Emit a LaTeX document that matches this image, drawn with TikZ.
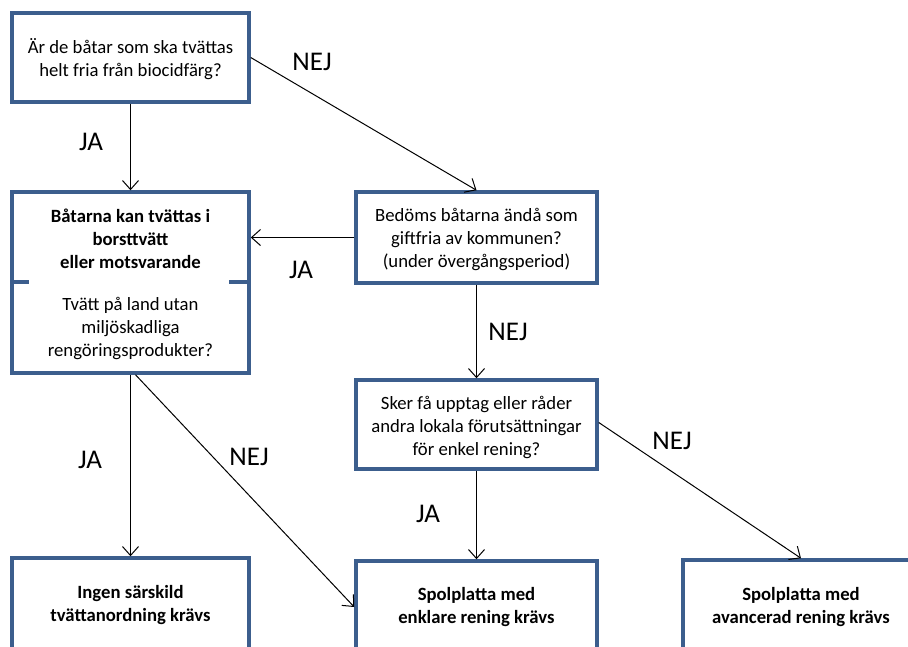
\documentclass[tikz,border=0pt]{standalone}
\usepackage{fontspec}
\setmainfont{Carlito}
\usetikzlibrary{arrows.meta,calc}
\definecolor{boxblue}{HTML}{3C5E8D}
\begin{document}
\begin{tikzpicture}[x=1pt,y=-1pt,
 box/.style={draw=boxblue,line width=3.5pt,fill=white,inner sep=0pt,align=center,font=\fontsize{18.7}{23}\selectfont},
 txt/.style={align=center,font=\fontsize{18.7}{23}\selectfont},
 btxt/.style={align=center,font=\bfseries\fontsize{18.7}{23}\selectfont},
 lbl/.style={font=\fontsize{27}{30}\selectfont},
 conn/.style={draw=black,line width=1pt,-{Straight Barb[length=9pt,width=16pt]}}
]
\useasboundingbox (0,0) rectangle (908,646);
\node[box,minimum width=237,minimum height=89] (b1) at (130.5,57.5) {};
\node[txt] (b1t) at (130.5,59.5) {Är de båtar som ska tvättas\\helt fria från biocidfärg?};
\node[box,minimum width=237,minimum height=181] (b2) at (130.5,282.5) {};
\node[btxt] (b2top) at (130.5,239) {Båtarna kan tvättas i\\borsttvätt\\eller motsvarande};
\node[txt] (b2bot) at (130.5,328) {Tvätt på land utan\\miljöskadliga\\rengöringsprodukter?};
\draw[boxblue,line width=3.5pt] ([yshift=0.5]b2.west) -- ++(19,0);
\draw[boxblue,line width=3.5pt] ([yshift=0.5]b2.east) -- ++(-22,0);
\node[box,minimum width=241,minimum height=91] (b3) at (476.5,237.5) {};
\node[txt] (b3t) at (476.5,239.5) {Bedöms båtarna ändå som\\giftfria av kommunen?\\(under övergångsperiod)};
\node[box,minimum width=241,minimum height=89] (b4) at (476.5,424.5) {};
\node[txt] (b4t) at (476.5,427.5) {Sker få upptag eller råder\\andra lokala förutsättningar\\för enkel rening?};
\node[box,minimum width=237,minimum height=92] (b5) at (130.5,604) {};
\node[btxt] (b5t) at (130.5,605) {Ingen särskild\\tvättanordning krävs};
\node[box,minimum width=241,minimum height=88] (b6) at (476.5,605) {};
\node[btxt] (b6t) at (476.5,607) {Spolplatta med\\enklare rening krävs};
\node[box,minimum width=236,minimum height=90] (b7) at (801,605) {};
\node[btxt] (b7t) at (801,607) {Spolplatta med\\avancerad rening krävs};
\draw[conn] (b1) -- (b2);
\draw[conn] (b1.east) -- (b3.north);
\draw[conn] (b3.west) -- (b3.west -| b2.east);
\draw[conn] (b3) -- (b4);
\draw[conn] (b2.south) -- (b5.north);
\draw[conn] ([xshift=5]b2.south) -- ([yshift=-2]b6.west);
\draw[conn] (b4) -- (b6);
\draw[conn] ([yshift=2]b4.east) -- (b7.north);
\node[lbl] (l1) at (91,142) {JA};
\node[lbl] (l2) at (312,62) {NEJ};
\node[lbl] (l3) at (301,270) {JA};
\node[lbl] (l4) at (508,332) {NEJ};
\node[lbl] (l5) at (90,460) {JA};
\node[lbl] (l6) at (249,457) {NEJ};
\node[lbl] (l7) at (428,514) {JA};
\node[lbl] (l8) at (672,441) {NEJ};
\end{tikzpicture}
\end{document}
